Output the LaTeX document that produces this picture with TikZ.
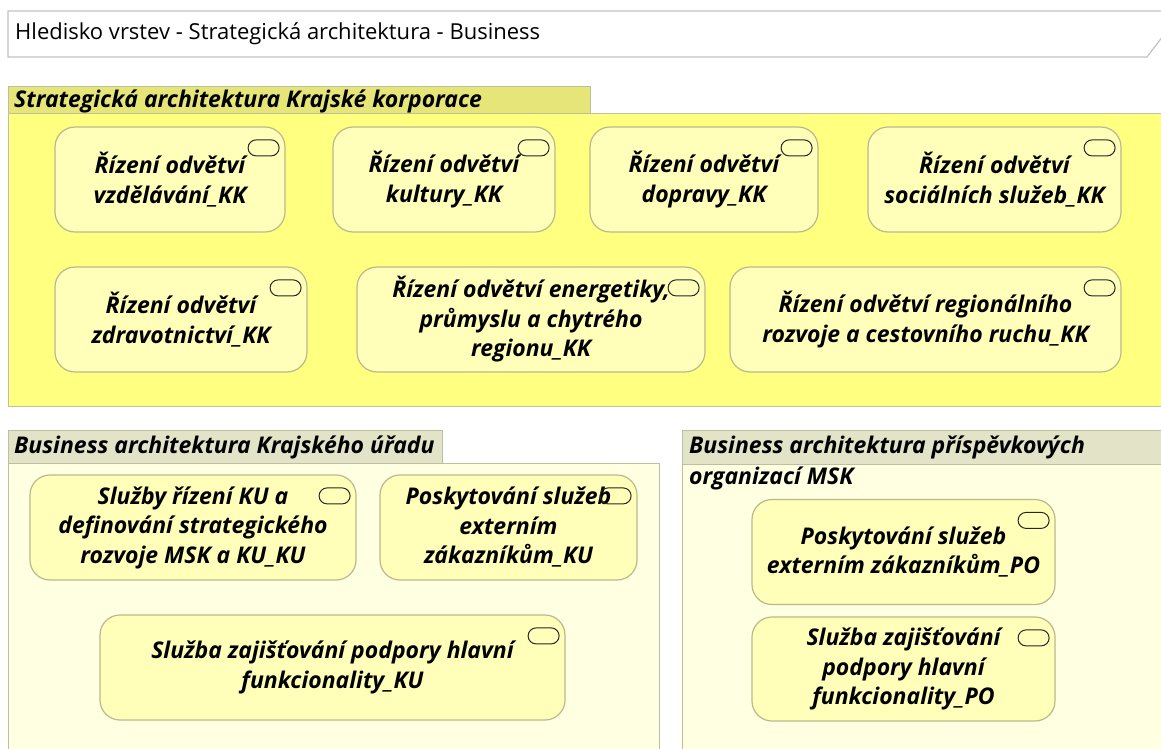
\documentclass[tikz,border=0pt]{standalone}
\usepackage{fontspec}
\setmainfont{Open Sans}
\definecolor{grpyellow}{RGB}{255,255,128}
\definecolor{tabyellow}{RGB}{230,230,120}
\definecolor{grplight}{RGB}{255,255,226}
\definecolor{tablight}{RGB}{227,227,200}
\definecolor{grpline}{RGB}{190,190,160}
\definecolor{svcfill}{RGB}{255,255,185}
\definecolor{svcline}{RGB}{185,185,140}
\definecolor{titleline}{RGB}{195,195,195}
\tikzset{
  svc/.style={draw=svcline, line width=1.2pt, fill=svcfill, rounded corners=20pt,
    align=center, inner sep=0pt, font=\fontsize{23}{29.5}\selectfont\bfseries\itshape},
  svcicon/.style={draw=black!85, line width=1pt, rounded corners=8pt,
    minimum width=31pt, minimum height=16pt, inner sep=0pt, anchor=north east},
  grplabel/.style={anchor=west, inner sep=0pt, font=\fontsize{23}{31}\selectfont\bfseries\itshape},
  grpbox/.style={draw=grpline, line width=1pt},
}
\newcommand{\svcmark}[1]{\node[svcicon] (#1-icon) at ([xshift=-6pt,yshift=-13pt]#1.north east) {};}
\begin{document}
\begin{tikzpicture}[x=1pt,y=-1pt]
\useasboundingbox (0,0) rectangle (1161,749);
\clip (0,0) rectangle (1161,749);
\fill[white] (0,0) rectangle (1161,749);

% view title banner
\draw[titleline, line width=1.2pt, fill=white]
  (1170,11) -- (8,11) -- (8,57) -- (1147,57) -- (1163,36);
\node[anchor=west, inner sep=0pt, font=\fontsize{22}{24}\selectfont] (title) at (15,34)
  {Hledisko vrstev - Strategická architektura - Business};

% group: Strategická architektura Krajské korporace
\draw[grpbox, fill=grpyellow] (8,114) rectangle (1175,406);
\draw[grpbox, fill=tabyellow] (8,87) rectangle (590,114);
\node[grplabel] (g1) at (14,101) {Strategická architektura Krajské korporace};

\node[svc, minimum width=230pt, minimum height=105pt] (k1) at (170,179.5) {Řízení odvětví\\vzdělávání\_KK};
\node[svc, minimum width=222pt, minimum height=105pt] (k2) at (444,179.5) {Řízení odvětví\\kultury\_KK};
\node[svc, minimum width=228pt, minimum height=105pt] (k3) at (704,179.5) {Řízení odvětví\\dopravy\_KK};
\node[svc, minimum width=253pt, minimum height=105pt] (k4) at (994.5,179.5) {Řízení odvětví\\sociálních služeb\_KK};
\node[svc, minimum width=252pt, minimum height=105pt] (k5) at (181,319.5) {Řízení odvětví\\zdravotnictví\_KK};
\node[svc, minimum width=348pt, minimum height=105pt] (k6) at (531,319.5) {Řízení odvětví energetiky,\\průmyslu a chytrého\\regionu\_KK};
\node[svc, minimum width=391pt, minimum height=105pt] (k7) at (925.5,319.5) {Řízení odvětví regionálního\\rozvoje a cestovního ruchu\_KK};
\svcmark{k1}\svcmark{k2}\svcmark{k3}\svcmark{k4}\svcmark{k5}\svcmark{k6}\svcmark{k7}

% group: Business architektura Krajského úřadu
\draw[grpbox, fill=grplight] (8,463) rectangle (659,760);
\draw[grpbox, fill=tablight] (8,430) rectangle (442,463);
\node[grplabel] (g2) at (14,447) {Business architektura Krajského úřadu};

\node[svc, minimum width=326pt, minimum height=105pt] (u1) at (193,527.5) {Služby řízení KU a\\definování strategického\\rozvoje MSK a KU\_KU};
\node[svc, minimum width=257pt, minimum height=105pt] (u2) at (508.5,527.5) {Poskytování služeb\\externím\\zákazníkům\_KU};
\node[svc, minimum width=465pt, minimum height=105pt] (u3) at (332.5,667.5) {Služba zajišťování podpory hlavní\\funkcionality\_KU};
\svcmark{u1}\svcmark{u2}\svcmark{u3}

% group: Business architektura příspěvkových organizací MSK
\draw[grpbox, fill=grplight] (682,464) rectangle (1175,760);
\draw[grpbox, fill=tablight] (682,430) rectangle (1175,464);
\node[grplabel, align=left, anchor=north west] (g3) at (689,436)
  {Business architektura příspěvkových\\organizací MSK};

\node[svc, minimum width=303pt, minimum height=105pt] (p1) at (903.5,552) {Poskytování služeb\\externím zákazníkům\_PO};
\node[svc, minimum width=303pt, minimum height=104pt] (p2) at (903.5,669) {Služba zajišťování\\podpory hlavní\\funkcionality\_PO};
\svcmark{p1}\svcmark{p2}
\end{tikzpicture}
\end{document}
